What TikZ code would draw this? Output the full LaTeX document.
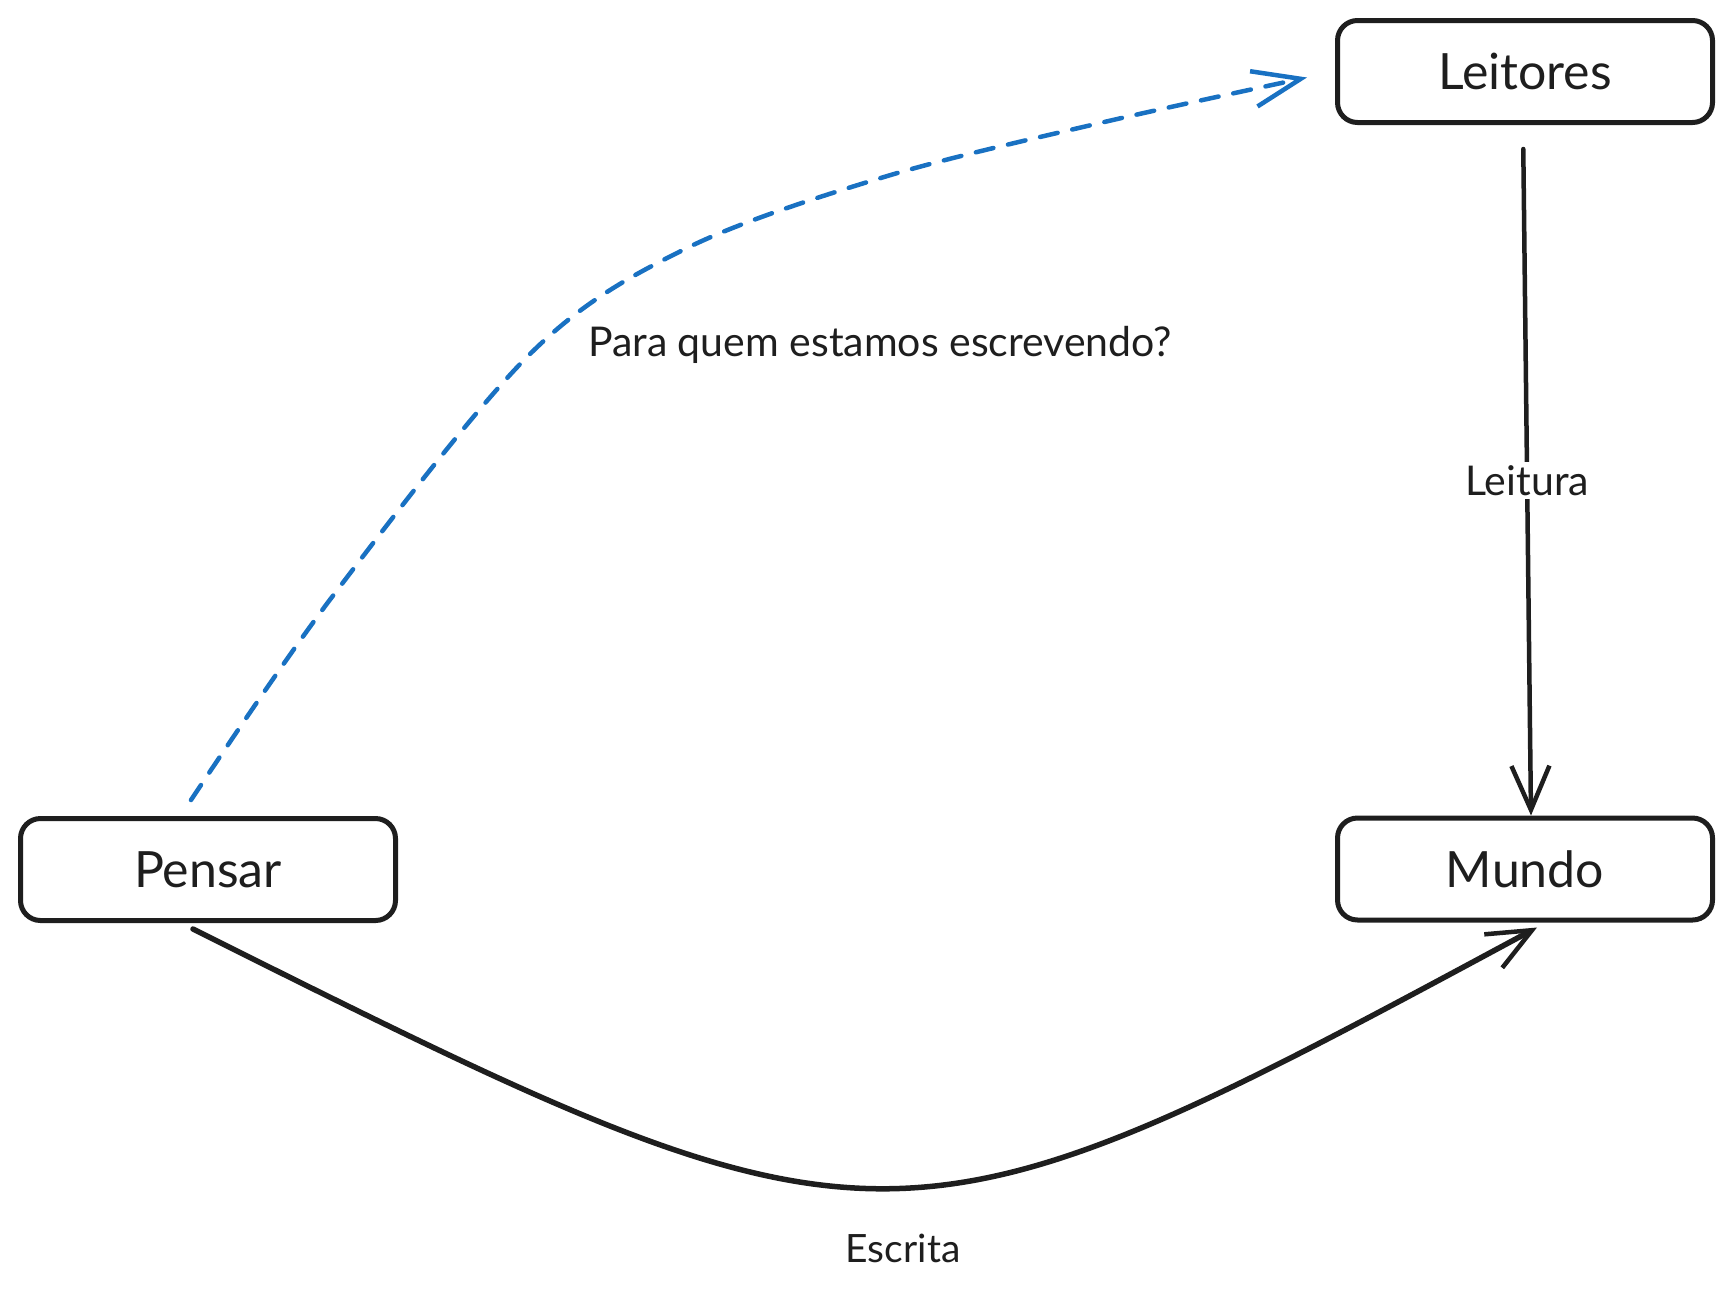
\documentclass[tikz,border=0pt]{standalone}
\usepackage{fontspec}
\setmainfont{Lato}
\usetikzlibrary{arrows.meta}
\definecolor{ink}{HTML}{1E1E1E}
\definecolor{blu}{HTML}{1971C2}
\begin{document}
\begin{tikzpicture}[x=1pt,y=-1pt,
  box/.style={draw=ink, line width=5pt, fill=white, rounded corners=20pt,
    minimum width=375pt, minimum height=102pt, inner sep=0pt,
    font=\fontsize{50}{60}\selectfont, text=ink, text height=36pt, text depth=0pt},
  lbl/.style={font=\fontsize{41}{49}\selectfont, text=ink, inner sep=3pt},
  conn/.style={draw=ink, line width=4.5pt, line cap=round,
    -{Straight Barb[length=44pt,width=38pt,line width=4.5pt]}},
  bluconn/.style={draw=blu, line width=4.5pt, line cap=round, dash pattern=on 18pt off 15pt,
    -{Straight Barb[length=48pt,width=36pt,line width=4.5pt]}}
]
\useasboundingbox (0,0) rectangle (1733,1294);

\node[box] (Leitores) at (1525,71.5) {Leitores};
\node[box] (Pensar) at (208,869.5) {Pensar};
\node[box] (Mundo) at (1525,869) {Mundo};

% Leitura
\draw[conn, shorten <=24pt] ([xshift=-2pt]Leitores.south) -- node[lbl, fill=white, pos=0.515] {Leitura} ([xshift=6pt]Mundo.north);

% Escrita
\draw[conn, line width=5.5pt] ([xshift=-15pt,yshift=-6pt]Pensar.south)
  .. controls (885,1275) and (892,1275) .. ([xshift=12pt,yshift=-5pt]Mundo.south);
\node[lbl, anchor=base, font=\fontsize{39}{47}\selectfont] (escrita) at (903,1262) {Escrita};

% blue dashed
\coordinate (bs) at ([xshift=-17pt,yshift=16pt]Pensar.north);
\coordinate (be) at ([xshift=-28pt,yshift=-6pt]Leitores.west);
\draw[bluconn] plot[smooth, tension=0.55] coordinates {(bs) (332,597) (530,354) (685,249) (884,177) (1100,123) (be)};
\node[lbl, anchor=base] (pq) at (880,356) {Para quem estamos escrevendo?};
\end{tikzpicture}
\end{document}
